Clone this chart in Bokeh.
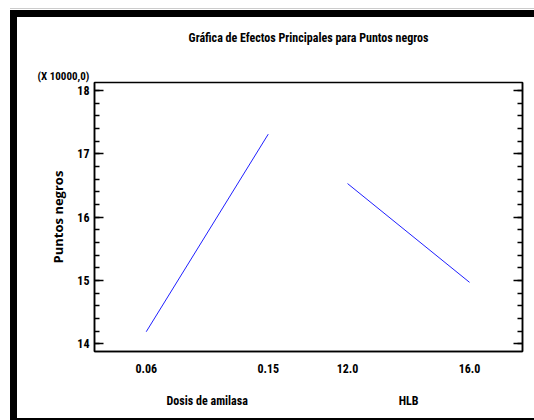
from bokeh.plotting import figure
from bokeh.models import LinearAxis, FixedTicker, SingleIntervalTicker, Title, Range1d
from bokeh.layouts import column
from bokeh.embed import file_html
from bokeh.resources import INLINE

# ---- data (values in units of 10000) ----
title_text = "Gráfica de Efectos Principales para Puntos negros"
factors = ["Dosis de amilasa", "HLB"]
levels = [["0.06", "0.15"], ["12.0", "16.0"]]
means = [[14.19, 17.31], [16.53, 14.97]]
y_label = "Puntos negros"
scale_note = "(X 10000,0)"
y_ticks = [14, 15, 16, 17, 18]

# ---- layout helpers ----
GAP = 0.65
NARROW = "Roboto Condensed"
WIDE = "Open Sans"

def pos(i, j):
    return i * (1 + GAP) + j

x0, x1 = -0.424, 3.084
p = figure(width=517, height=401, output_backend="svg", toolbar_location=None,
           x_range=Range1d(x0, x1), y_range=Range1d(13.878, 18.126),
           min_border_left=77, min_border_right=12, min_border_top=65, min_border_bottom=67,
           background_fill_color="white", border_fill_color="white")
p.grid.visible = False
p.outline_line_color = "black"
p.outline_line_width = 1.5
p.title.text = ""

xa = p.below[0]
ya = p.left[0]

# scale note, placed just above the frame, left of it
note = Title(text=scale_note, align="left", offset=-57, standoff=0,
             text_font=NARROW, text_font_style="bold", text_font_size="11px", text_color="black")
p.add_layout(note, "above")

# chart title, drawn as the label of a bare top axis (centred over the frame)
ta = LinearAxis(ticker=FixedTicker(ticks=[]), axis_line_color=None, major_tick_line_color=None,
                minor_tick_line_color=None, major_label_standoff=0, major_tick_out=0, major_tick_in=0,
                axis_label=title_text, axis_label_standoff=23, axis_label_text_font=NARROW,
                axis_label_text_font_style="bold", axis_label_text_font_size="12px",
                axis_label_text_color="black")
p.add_layout(ta, "above")

for i, f in enumerate(factors):
    xs = [pos(i, j) for j in range(len(levels[i]))]
    p.line(xs, means[i], line_color="#1f1fff", line_width=1)

# left axis
ya.ticker = SingleIntervalTicker(interval=1, num_minor_ticks=5)
ya.major_tick_in = 9
ya.major_tick_out = 0
ya.minor_tick_in = 5
ya.minor_tick_out = 0
ya.major_tick_line_width = 1.5
ya.minor_tick_line_width = 1.5
ya.axis_line_width = 1.5
ya.major_label_standoff = 5
ya.major_label_text_font = NARROW
ya.major_label_text_font_style = "bold"
ya.major_label_text_font_size = "12px"
ya.major_label_text_color = "black"
ya.axis_label = y_label
ya.axis_label_text_font = WIDE
ya.axis_label_text_font_style = "bold"
ya.axis_label_text_font_size = "13px"
ya.axis_label_text_color = "black"
ya.axis_label_standoff = 7

# right axis (ticks only, empty labels)
ra = LinearAxis(ticker=SingleIntervalTicker(interval=1, num_minor_ticks=5),
                major_tick_in=9, major_tick_out=0, minor_tick_in=5, minor_tick_out=0,
                major_tick_line_width=1.5, minor_tick_line_width=1.5, axis_line_width=1.5,
                major_label_overrides={t: "" for t in y_ticks}, major_label_standoff=0)
p.add_layout(ra, "right")

# bottom axis: level labels
ticks = []
overrides = {}
for i in range(len(factors)):
    for j, lv in enumerate(levels[i]):
        t = pos(i, j)
        ticks.append(t)
        overrides[t] = lv
xa.ticker = FixedTicker(ticks=ticks)
xa.major_label_overrides = overrides
xa.major_tick_line_color = None
xa.minor_tick_line_color = None
xa.axis_line_width = 1.5
xa.major_label_standoff = 6
xa.major_label_text_font = NARROW
xa.major_label_text_font_style = "bold"
xa.major_label_text_font_size = "12px"
xa.major_label_text_color = "black"

# second bottom axis: factor names
centers = [pos(i, (len(levels[i]) - 1) / 2) for i in range(len(factors))]
fa = LinearAxis(ticker=FixedTicker(ticks=centers),
                major_label_overrides={c: f for c, f in zip(centers, factors)},
                axis_line_color=None, major_tick_line_color=None, minor_tick_line_color=None,
                major_label_standoff=12, major_label_text_font=NARROW,
                major_label_text_font_style="bold", major_label_text_font_size="12px",
                major_label_text_color="black")
p.add_layout(fa, "below")

inner = column(p, styles={"border-top": "7px solid black", "border-left": "7px solid black",
                          "border-bottom": "2px solid black"})
outer = column(inner, styles={"margin-left": "10px", "margin-top": "8px",
                              "border-top": "1px solid #cccccc", "padding-top": "1px"})

open("out.html", "w").write(file_html(outer, INLINE))
